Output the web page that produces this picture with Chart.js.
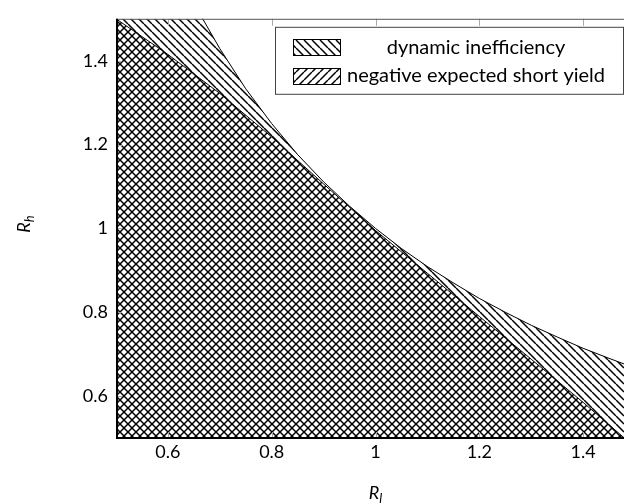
<!DOCTYPE html>
<html><head><meta charset="utf-8">
<script src="https://cdn.jsdelivr.net/npm/chart.js@4/dist/chart.umd.min.js"></script>
<style>html,body{margin:0;padding:0;overflow:hidden;background:#fff}#wrap{width:650px;height:504px;position:relative}</style>
</head><body><div id="wrap"><canvas id="c"></canvas></div>
<script>
// dynamic inefficiency boundary (R_h = 1/R_l)
const rlUpper = [0.5, 0.55, 0.6, 0.65, 0.667, 0.7, 0.75, 0.8, 0.85, 0.9, 0.95, 1.0, 1.05, 1.1, 1.15, 1.2, 1.25, 1.3, 1.35, 1.4, 1.45, 1.5];
const rhUpper = [2.0, 1.818, 1.667, 1.538, 1.5, 1.429, 1.333, 1.25, 1.176, 1.111, 1.053, 1.0, 0.952, 0.909, 0.870, 0.833, 0.8, 0.769, 0.741, 0.714, 0.690, 0.667];
// negative expected short yield boundary
const rlLower = [0.5, 0.6, 0.7, 0.8, 0.9, 1.0, 1.1, 1.2, 1.3, 1.4, 1.5];
const rhLower = [1.5, 1.415, 1.322, 1.218, 1.106, 0.995, 0.893, 0.79, 0.688, 0.585, 0.478];
const xTickValues = [0.6, 0.8, 1, 1.2, 1.4];
const xTickLabels = ['0.6', '0.8', '1', '1.2', '1.4'];
const yTickValues = [0.6, 0.8, 1, 1.2, 1.4];
const yTickLabels = ['0.6', '0.8', '1', '1.2', '1.4'];
const seriesLabels = ['dynamic inefficiency', 'negative expected short yield'];
const xTitle = ['R', 'l'];
const yTitle = ['R', 'h'];

const FONT = 'Lato, "DejaVu Sans", sans-serif';

function makeHatch(dir) {
  const p = 8;
  const c = document.createElement('canvas');
  c.width = p; c.height = p;
  const g = c.getContext('2d');
  g.strokeStyle = '#000'; g.lineWidth = 1.5;
  g.beginPath();
  for (let k = -1; k <= 1; k++) {
    if (dir === 'back') { g.moveTo(k * p, 0); g.lineTo(k * p + p, p); }
    else { g.moveTo(k * p, p); g.lineTo(k * p + p, 0); }
  }
  g.stroke();
  return g.createPattern(c, 'repeat');
}
const hatchBack = makeHatch('back');
const hatchFwd = makeHatch('fwd');

const deco = {
  id: 'deco',
  afterDatasetsDraw(chart) {
    const { ctx, chartArea: a, scales: { x, y } } = chart;
    ctx.save();
    // inward ticks, all four sides
    ctx.strokeStyle = '#a8a8a8'; ctx.lineWidth = 1;
    ctx.beginPath();
    xTickValues.forEach(v => {
      const px = Math.round(x.getPixelForValue(v)) + 0.5;
      ctx.moveTo(px, a.bottom); ctx.lineTo(px, a.bottom - 6);
      ctx.moveTo(px, a.top); ctx.lineTo(px, a.top + 7);
    });
    yTickValues.forEach(v => {
      const py = Math.round(y.getPixelForValue(v)) + 0.5;
      ctx.moveTo(a.left, py); ctx.lineTo(a.left + 6, py);
      ctx.moveTo(a.right, py); ctx.lineTo(a.right - 6, py);
    });
    ctx.stroke();
    // frame
    ctx.strokeStyle = '#555'; ctx.lineWidth = 1;
    ctx.strokeRect(a.left + 0.5, a.top + 0.5, a.right - a.left - 1, a.bottom - a.top);
    ctx.strokeStyle = '#000'; ctx.lineWidth = 2;
    ctx.beginPath();
    ctx.moveTo(a.left + 1, a.top); ctx.lineTo(a.left + 1, a.bottom); ctx.lineTo(a.right, a.bottom);
    ctx.stroke();
    // legend
    const lx = a.left + 159, ly = a.top + 8, lw = 348, lh = 67;
    ctx.fillStyle = '#fff';
    ctx.fillRect(lx, ly, lw, lh);
    ctx.strokeStyle = '#444'; ctx.lineWidth = 1;
    ctx.strokeRect(lx + 0.5, ly + 0.5, lw, lh);
    const pats = [hatchBack, hatchFwd];
    const rows = [ly + 20.5, ly + 49];
    seriesLabels.forEach((lab, i) => {
      const sx = lx + 18, sy = Math.round(rows[i] - 8);
      ctx.fillStyle = pats[i];
      ctx.fillRect(sx, sy, 47, 16);
      ctx.strokeStyle = '#000'; ctx.lineWidth = 1;
      ctx.strokeRect(sx + 0.5, sy + 0.5, 47, 16);
      ctx.fillStyle = '#000';
      ctx.font = '20px ' + FONT;
      ctx.textAlign = 'center'; ctx.textBaseline = 'middle';
      ctx.fillText(lab, lx + 201, rows[i]);
    });
    ctx.restore();
  },
  afterDraw(chart) {
    const { ctx, chartArea: a, scales: { x } } = chart;
    ctx.save();
    ctx.fillStyle = '#000';
    ctx.textBaseline = 'alphabetic';
    function title(parts, cx, cy, rot) {
      ctx.save();
      ctx.translate(cx, cy);
      if (rot) ctx.rotate(-Math.PI / 2);
      ctx.font = 'italic 18px ' + FONT;
      const w1 = ctx.measureText(parts[0]).width;
      ctx.font = 'italic 13px ' + FONT;
      const w2 = ctx.measureText(parts[1]).width;
      const x0 = -(w1 + w2) / 2;
      ctx.font = 'italic 18px ' + FONT;
      ctx.textAlign = 'left';
      ctx.fillText(parts[0], x0, 6);
      ctx.font = 'italic 13px ' + FONT;
      ctx.fillText(parts[1], x0 + w1, 10);
      ctx.restore();
    }
    title(xTitle, x.getPixelForValue(1), 493, false);
    title(yTitle, 24, 224, true);
    ctx.restore();
  }
};

const toPts = (xs, ys) => xs.map((v, i) => ({ x: v, y: ys[i] }));

new Chart(document.getElementById('c'), {
  type: 'line',
  data: {
    datasets: [
      { label: seriesLabels[0], data: toPts(rlUpper, rhUpper), borderColor: '#000', borderWidth: 1,
        backgroundColor: hatchBack, fill: 'start', pointRadius: 0, tension: 0 },
      { label: seriesLabels[1], data: toPts(rlLower, rhLower), borderColor: '#000', borderWidth: 1,
        backgroundColor: hatchFwd, fill: 'start', pointRadius: 0, tension: 0 }
    ]
  },
  options: {
    responsive: true, maintainAspectRatio: false, animation: false,
    layout: { padding: { left: 0, top: 8, right: 15, bottom: 0 } },
    plugins: { legend: { display: false }, tooltip: { enabled: false } },
    scales: {
      x: {
        type: 'linear', min: 0.5, max: 1.5,
        grid: { display: false, drawTicks: false }, border: { display: false },
        afterBuildTicks: s => { s.ticks = xTickValues.map(v => ({ value: v })); },
        afterFit: s => { s.height = 66; },
        ticks: { padding: 3, color: '#000', font: { family: FONT, size: 18 },
          callback: v => xTickLabels[xTickValues.indexOf(v)] }
      },
      y: {
        type: 'linear', min: 0.5, max: 1.5,
        grid: { display: false, drawTicks: false }, border: { display: false },
        afterBuildTicks: s => { s.ticks = yTickValues.map(v => ({ value: v })); },
        afterFit: s => { s.width = 116; },
        ticks: { padding: 8, color: '#000', font: { family: FONT, size: 18 },
          callback: v => yTickLabels[yTickValues.indexOf(v)] }
      }
    }
  },
  plugins: [deco]
});
</script></body></html>
